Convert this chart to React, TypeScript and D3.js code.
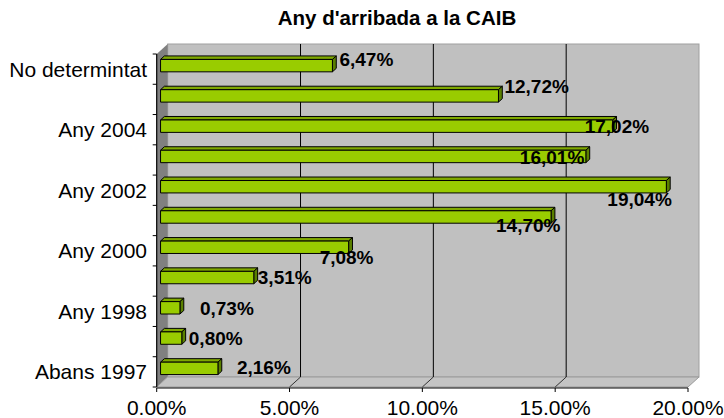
import React from 'react';
import * as d3 from 'd3';

// categories, bottom to top
const categories = [
  'Abans 1997', 'Any 1997', 'Any 1998', 'Any 1999', 'Any 2000', 'Any 2001',
  'Any 2002', 'Any 2003', 'Any 2004', 'Any 2005', 'No determintat',
];
const values = [2.16, 0.8, 0.73, 3.51, 7.08, 14.7, 19.04, 16.01, 17.02, 12.72, 6.47];
const shownLabels = ['Abans 1997', 'Any 1998', 'Any 2000', 'Any 2002', 'Any 2004', 'No determintat'];
const xTicks = [0, 5, 10, 15, 20];
const title = "Any d'arribada a la CAIB";

// the data labels were moved around by hand in the original, nudge them the same way
const labelNudge: [number, number][] = [
  [19, -1], [7, 0], [20, 0], [4, 0], [-29, 10], [-55, 8.5],
  [-59, 12], [-66, 1], [-28, 0], [6, -10], [7, -6],
];

const W = 724;
const H = 418;
const font = 'Liberation Sans, Arial, sans-serif';

// 3D box depth offset
const DX = 11;
const DY = -10;
const barFront = 0.35;
const barBack = 0.7;

const App = () => {
  const x = d3.scaleLinear().domain([0, 20]).range([156.7, 688]);
  const y = d3.scaleBand<string>().domain([...categories].reverse()).range([54, 387]).padding(0);
  const bw = y.bandwidth();
  const barH = bw * 0.41;

  const x0 = x(0);
  const x1 = x(20);
  const yTop = 54;
  const yBot = 387;

  const pts = (p: [number, number][]) => p.map(d => d.join(',')).join(' ');

  const fmtAxis = (v: number) => v.toFixed(2) + '%';
  const fmtLabel = (v: number) => v.toFixed(2).replace('.', ',') + '%';

  return (
    <svg width={W} height={H} style={{ position: 'absolute', left: 0, top: 0, background: '#fff' }}>
      <text x={397} y={25} textAnchor="middle" fontFamily={font} fontWeight="bold" fontSize={20.5}>
        {title}
      </text>

      {/* back wall */}
      <rect x={x0 + DX} y={yTop + DY} width={x1 - x0} height={yBot - yTop}
        fill="#c0c0c0" stroke="#a0a0a0" strokeWidth={1} />
      {/* left wall */}
      <polygon points={pts([[x0, yTop], [x0 + DX, yTop + DY], [x0 + DX, yBot + DY], [x0, yBot]])}
        fill="#808080" />
      {/* floor */}
      <polygon points={pts([[x0, yBot], [x0 + DX, yBot + DY], [x1 + DX, yBot + DY], [x1, yBot]])}
        fill="#c4c4c4" stroke="#9a9a9a" strokeWidth={1} />

      {/* gridlines */}
      {xTicks.slice(1, -1).map(t => (
        <g key={'g' + t}>
          <line x1={x(t) + DX} x2={x(t) + DX} y1={yTop + DY} y2={yBot + DY} stroke="#000" strokeWidth={1} />
          <line x1={x(t)} x2={x(t) + DX} y1={yBot} y2={yBot + DY} stroke="#333" strokeWidth={1} />
        </g>
      ))}

      {/* bars */}
      {categories.map((c, i) => {
        const v = values[i];
        const cy = (y(c) as number) + bw / 2;
        const fx = x0 + DX * barFront;
        const fy = cy - barH / 2 + DY * barFront;
        const ex = x(v) + DX * barFront;
        const ddx = DX * (barBack - barFront);
        const ddy = DY * (barBack - barFront);
        return (
          <g key={c} stroke="#000" strokeWidth={1} strokeLinejoin="round">
            <polygon points={pts([[fx, fy], [fx + ddx, fy + ddy], [ex + ddx, fy + ddy], [ex, fy]])} fill="#7fa800" />
            <polygon points={pts([[ex, fy], [ex + ddx, fy + ddy], [ex + ddx, fy + ddy + barH], [ex, fy + barH]])} fill="#5a8000" />
            <rect x={fx} y={fy} width={ex - fx} height={barH} fill="#99cc00" />
          </g>
        );
      })}

      {/* category axis */}
      <line x1={x0} x2={x0} y1={yTop} y2={yBot} stroke="#000" strokeWidth={1.2} />
      {d3.range(categories.length + 1).map(k => {
        const ty = yTop + k * bw;
        return <line key={'t' + k} x1={x0 - 4} x2={x0} y1={ty} y2={ty} stroke="#000" strokeWidth={1} />;
      })}
      {categories.filter(c => shownLabels.includes(c)).map(c => (
        <text key={'l' + c} x={147} y={(y(c) as number) + bw / 2} dy="0.36em" textAnchor="end"
          fontFamily={font} fontSize={21} fill="#000">
          {c}
        </text>
      ))}

      {/* value axis */}
      <line x1={x0} x2={x1} y1={yBot + 1} y2={yBot + 1} stroke="#000" strokeWidth={1.2} />
      {xTicks.map(t => (
        <g key={'x' + t}>
          <line x1={x(t)} x2={x(t)} y1={yBot + 1} y2={yBot + 5} stroke="#000" strokeWidth={1} />
          <text x={x(t)} y={415} textAnchor="middle" fontFamily={font} fontSize={21} fill="#000">
            {fmtAxis(t)}
          </text>
        </g>
      ))}

      {/* data labels */}
      {categories.map((c, i) => {
        const v = values[i];
        const cy = (y(c) as number) + bw / 2 + DY * barFront;
        const ex = x(v) + DX * barFront;
        const [ndx, ndy] = labelNudge[i];
        return (
          <text key={'d' + c} x={ex + ndx} y={cy + ndy} dy="0.36em" fontFamily={font}
            fontWeight="bold" fontSize={19} fill="#000">
            {fmtLabel(v)}
          </text>
        );
      })}
    </svg>
  );
};

export default App;
